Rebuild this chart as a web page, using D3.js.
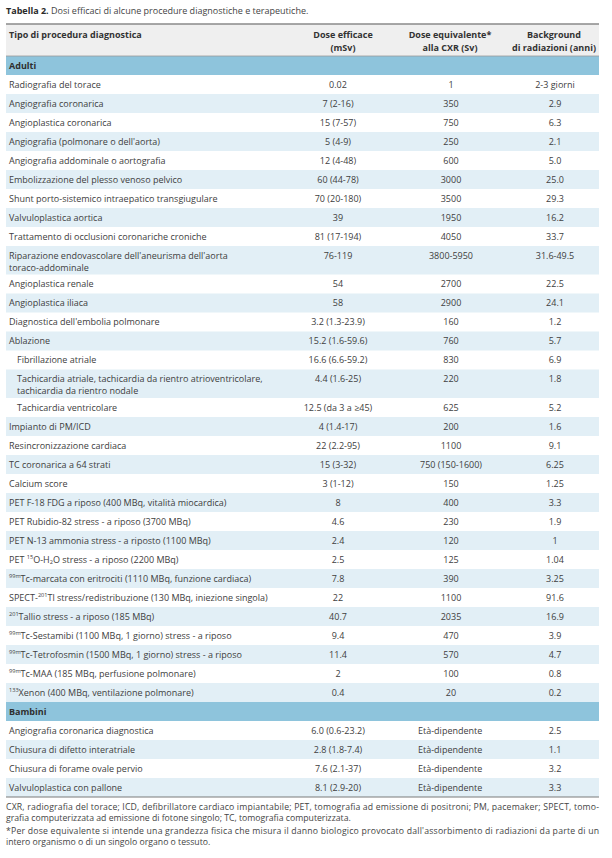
<!DOCTYPE html>
<html><head><meta charset="utf-8">
<script src="https://cdn.jsdelivr.net/npm/d3@7"></script>
<style>
body{margin:0;background:#fff}
svg{display:block}
text{font-family:"Open Sans","Noto Sans",sans-serif;fill:#404040}
</style>
</head><body>
<svg id="chart" width="612" height="858"></svg>
<script>
// ---------- DATA ----------
const titleBold = "Tabella 2.";
const titleText = " Dosi efficaci di alcune procedure diagnostiche e terapeutiche.";
const columnKeys = ["label", "dose", "equiv", "bg"];
const columnHeaders = [
  "Tipo di procedura diagnostica",
  "Dose efficace\n(mSv)",
  "Dose equivalente*\nalla CXR (Sv)",
  "Background\ndi radiazioni (anni)"
];
const groups = ["Adulti", "Bambini"];

const adultLabels = [
  "Radiografia del torace",
  "Angiografia coronarica",
  "Angioplastica coronarica",
  "Angiografia (polmonare o dell'aorta)",
  "Angiografia addominale o aortografia",
  "Embolizzazione del plesso venoso pelvico",
  "Shunt porto-sistemico intraepatico transgiugulare",
  "Valvuloplastica aortica",
  "Trattamento di occlusioni coronariche croniche",
  "Riparazione endovascolare dell'aneurisma dell'aorta\ntoraco-addominale",
  "Angioplastica renale",
  "Angioplastica iliaca",
  "Diagnostica dell'embolia polmonare",
  "Ablazione",
  "Fibrillazione atriale",
  "Tachicardia atriale, tachicardia da rientro atrioventricolare,\ntachicardia da rientro nodale",
  "Tachicardia ventricolare",
  "Impianto di PM/ICD",
  "Resincronizzazione cardiaca",
  "TC coronarica a 64 strati",
  "Calcium score",
  "PET F-18 FDG a riposo (400 MBq, vitalità miocardica)",
  "PET Rubidio-82 stress - a riposo (3700 MBq)",
  "PET N-13 ammonia stress - a riposto (1100 MBq)",
  "PET ^15^O-H_2_O stress - a riposo (2200 MBq)",
  "^99m^Tc-marcata con eritrociti (1110 MBq, funzione cardiaca)",
  "SPECT-^201^Tl stress/redistribuzione (130 MBq, iniezione singola)",
  "^201^Tallio stress - a riposo (185 MBq)",
  "^99m^Tc-Sestamibi (1100 MBq, 1 giorno) stress - a riposo",
  "^99m^Tc-Tetrofosmin (1500 MBq, 1 giorno) stress - a riposo",
  "^99m^Tc-MAA (185 MBq, perfusione polmonare)",
  "^133^Xenon (400 MBq, ventilazione polmonare)"
];
const adultDose = ["0.02","7 (2-16)","15 (7-57)","5 (4-9)","12 (4-48)","60 (44-78)","70 (20-180)","39","81 (17-194)","76-119","54","58","3.2 (1.3-23.9)","15.2 (1.6-59.6)","16.6 (6.6-59.2)","4.4 (1.6-25)","12.5 (da 3 a ≥45)","4 (1.4-17)","22 (2.2-95)","15 (3-32)","3 (1-12)","8","4.6","2.4","2.5","7.8","22","40.7","9.4","11.4","2","0.4"];
const adultEquiv = ["1","350","750","250","600","3000","3500","1950","4050","3800-5950","2700","2900","160","760","830","220","625","200","1100","750 (150-1600)","150","400","230","120","125","390","1100","2035","470","570","100","20"];
const adultBackground = ["2-3 giorni","2.9","6.3","2.1","5.0","25.0","29.3","16.2","33.7","31.6-49.5","22.5","24.1","1.2","5.7","6.9","1.8","5.2","1.6","9.1","6.25","1.25","3.3","1.9","1","1.04","3.25","91.6","16.9","3.9","4.7","0.8","0.2"];
const adultSubItems = [14, 15, 16]; // sub-items of "Ablazione"

const childLabels = ["Angiografia coronarica diagnostica","Chiusura di difetto interatriale","Chiusura di forame ovale pervio","Valvuloplastica con pallone"];
const childDose = ["6.0 (0.6-23.2)","2.8 (1.8-7.4)","7.6 (2.1-37)","8.1 (2.9-20)"];
const childEquiv = ["Età-dipendente","Età-dipendente","Età-dipendente","Età-dipendente"];
const childBackground = ["2.5","1.1","3.2","3.3"];

const footnotes = [
  "CXR, radiografia del torace; ICD, defibrillatore cardiaco impiantabile; PET, tomografia ad emissione di positroni; PM, pacemaker; SPECT, tomo-",
  "grafia computerizzata ad emissione di fotone singolo; TC, tomografia computerizzata.",
  "*Per dose equivalente si intende una grandezza fisica che misura il danno biologico provocato dall'assorbimento di radiazioni da parte di un",
  "intero organismo o di un singolo organo o tessuto."
];
const footnoteJustify = [true, false, true, false];

// ---------- LAYOUT ----------
const left = 6, right = 599;
const FS = 9;
const lineGap = 12.3;
const rowH = 19;
const headerTop = 24, headerBottom = 56;

const svg = d3.select("#chart");

const rows = [];
function addGroup(name, labels, dose, equiv, bg, subs) {
  rows.push({type: "group", label: name, lines: 1});
  labels.forEach((l, i) => rows.push({
    type: "row", label: l, dose: dose[i], equiv: equiv[i], bg: bg[i],
    lines: l.split("\n").length, sub: subs.includes(i), shade: i % 2 === 1,
    ageDep: equiv[i] === "Età-dipendente"
  }));
}
addGroup(groups[0], adultLabels, adultDose, adultEquiv, adultBackground, adultSubItems);
addGroup(groups[1], childLabels, childDose, childEquiv, childBackground, []);

let acc = 0;
rows.forEach(r => { r.u0 = acc; r.units = 1 + 0.5 * (r.lines - 1); acc += r.units; r.u1 = acc; });
const totalUnits = acc;

const y = d3.scaleLinear().domain([0, totalUnits]).range([headerBottom, headerBottom + totalUnits * rowH]);
const xData = d3.scaleOrdinal().domain(columnKeys).range([9, 338, 451, 555]);
const xHead = d3.scaleOrdinal().domain(columnKeys).range([9, 343, 450, 554]);

// ---------- TITLE ----------
const t = svg.append("text").attr("x", left).attr("y", 13.5).style("font-size", "9px");
t.append("tspan").text(titleBold).style("font-weight", "bold").style("fill", "#2a2a2a");
t.append("tspan").text(titleText).style("fill", "#444");

// ---------- HEADER ----------
svg.append("rect").attr("x", left).attr("y", headerTop).attr("width", right - left).attr("height", headerBottom - headerTop).attr("fill", "#efefef");
svg.append("line").attr("x1", left).attr("x2", right).attr("y1", headerTop).attr("y2", headerTop).attr("stroke", "#8a8a8a").attr("stroke-width", 1.5);

columnKeys.forEach((k, ci) => {
  const lines = columnHeaders[ci].split("\n");
  const tx = svg.append("text")
    .attr("x", xHead(k))
    .attr("text-anchor", ci === 0 ? "start" : "middle")
    .style("font-size", "9px").style("font-weight", "bold").style("fill", "#333");
  lines.forEach((l, li) => tx.append("tspan").attr("x", xHead(k)).attr("y", headerTop + 14.2 + li * lineGap).text(l));
});

// ---------- BODY ----------
const g = svg.append("g");
const rowG = g.selectAll("g.r").data(rows).join("g").attr("class", "r");

rowG.filter(d => d.type === "group").append("rect")
  .attr("x", left).attr("width", right - left)
  .attr("y", d => y(d.u0)).attr("height", d => y(d.u1) - y(d.u0))
  .attr("fill", "#8ec4dc");
rowG.filter(d => d.type === "row" && d.shade).append("rect")
  .attr("x", left).attr("width", right - left)
  .attr("y", d => y(d.u0)).attr("height", d => y(d.u1) - y(d.u0))
  .attr("fill", "#e2eff6");

svg.append("line").attr("x1", left).attr("x2", right).attr("y1", headerBottom).attr("y2", headerBottom).attr("stroke", "#9a9a9a").attr("stroke-width", 0.8);

rowG.filter(d => d.type === "group").append("text")
  .attr("x", xData("label")).attr("y", d => y(d.u0) + 12.8)
  .style("font-size", "9px").style("font-weight", "bold").style("fill", "#2f2f2f")
  .text(d => d.label);

// rich label writer (^sup^ and _sub_)
function writeRich(textSel, str) {
  const parts = str.split(/(\^[^^]+\^|_[^_]+_)/).filter(s => s.length);
  let pending = 0;
  parts.forEach(p => {
    if (p[0] === "^") {
      textSel.append("tspan").text(p.slice(1, -1)).style("font-size", "5.6px").attr("dy", pending - 3.4);
      pending = 3.4;
    } else if (p[0] === "_") {
      textSel.append("tspan").text(p.slice(1, -1)).style("font-size", "5.6px").attr("dy", pending + 1.8);
      pending = -1.8;
    } else {
      textSel.append("tspan").text(p).attr("dy", pending);
      pending = 0;
    }
  });
}

const firstBase = 12.6;
rowG.filter(d => d.type === "row").each(function(d) {
  const sel = d3.select(this);
  const lines = d.label.split("\n");
  lines.forEach((l, li) => {
    const tx = sel.append("text")
      .attr("x", xData("label") + (d.sub ? 8 : 0))
      .attr("y", y(d.u0) + firstBase + li * lineGap)
      .style("font-size", FS + "px");
    writeRich(tx, l);
  });
  ["dose", "equiv", "bg"].forEach(k => {
    const isAge = k === "equiv" && d.ageDep;
    sel.append("text")
      .attr("x", isAge ? xData(k) - 33 : xData(k))
      .attr("y", y(d.u0) + firstBase)
      .attr("text-anchor", isAge ? "start" : "middle")
      .style("font-size", FS + "px")
      .text(d[k]);
  });
});

svg.append("line").attr("x1", left).attr("x2", right).attr("y1", y(totalUnits)).attr("y2", y(totalUnits)).attr("stroke", "#7a7a7a").attr("stroke-width", 1);

// ---------- FOOTNOTES ----------
const fy = [809.5, 820.5, 833.5, 844.5];
footnotes.forEach((f, i) => {
  const tx = svg.append("text").attr("x", left).attr("y", fy[i]).style("font-size", "8.7px").style("fill", "#444").text(f);
  if (footnoteJustify[i]) tx.attr("textLength", right - left).attr("lengthAdjust", "spacing");
});
</script>
</body></html>
